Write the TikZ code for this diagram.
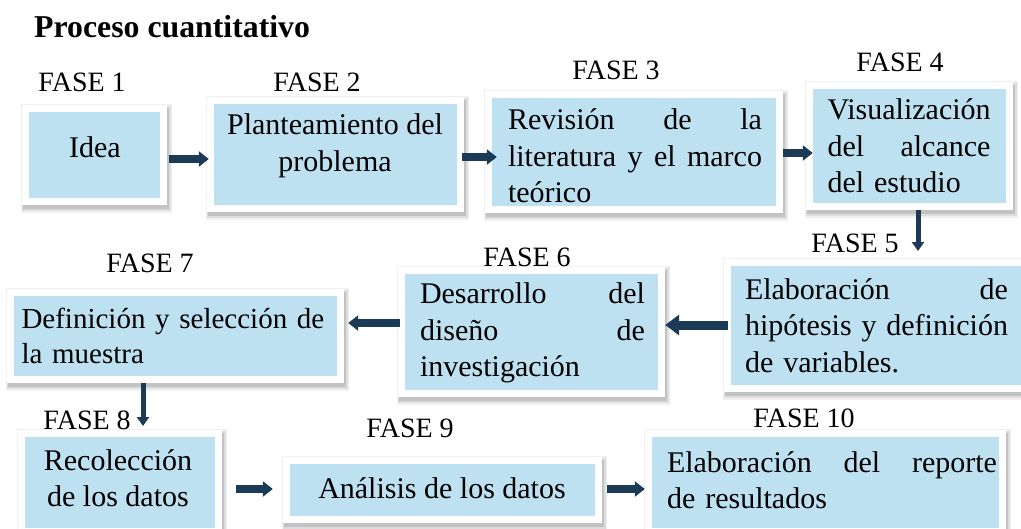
\documentclass[tikz,border=0pt]{standalone}
\usepackage{fontspec}
\setmainfont{Liberation Serif}
\usetikzlibrary{arrows.meta,calc}
\definecolor{boxblue}{RGB}{190,225,241}
\definecolor{arrowblue}{RGB}{27,58,86}
\pgfdeclarelayer{bg}
\pgfsetlayers{bg,main}
% #1 name, #2 cx, #3 cy, #4 width, #5 height
\newcommand\pbox[5]{%
  \node[frame, minimum width=#4pt, minimum height=#5pt] (#1) at (#2,#3) {};
  \fill[boxblue] ($(#1.north west)+(7,7)$) rectangle ($(#1.south east)+(-7,-7)$);
  \begin{pgfonlayer}{bg}
    \fill[black, opacity=0.06] ($(#1.north west)+(-1,-1)$) rectangle ($(#1.south east)+(5,8)$);
    \fill[black, opacity=0.08] ($(#1.north west)+(0,1)$) rectangle ($(#1.south east)+(3.5,6)$);
    \fill[black, opacity=0.12] ($(#1.north west)+(1,3)$) rectangle ($(#1.south east)+(2,4)$);
  \end{pgfonlayer}
}
\begin{document}
\begin{tikzpicture}[x=1pt,y=-1pt,
  frame/.style={fill=white, draw=none, inner sep=0pt},
  txt/.style={font=\fontsize{30}{36.5}\selectfont, inner sep=0pt, align=center},
  jtxt/.style={txt, align=left, text width=#1},
  fase/.style={font=\fontsize{28}{32}\selectfont, inner sep=0pt},
  arr/.style={draw=arrowblue, line width=7.5pt, -{Triangle[length=10pt,width=15pt]}},
  arrbig/.style={draw=arrowblue, line width=9pt, -{Triangle[length=14pt,width=20pt]}},
  arrd/.style={draw=arrowblue, line width=5pt, -{Triangle[length=9pt,width=12pt]}}
]
\begin{pgfonlayer}{bg}
\fill[white] (0,0) rectangle (1021,528);
\end{pgfonlayer}
\clip (0,0) rectangle (1021,528);

% title
\node[anchor=west, inner sep=0pt, font=\fontsize{31.8}{36}\selectfont\bfseries] (title) at (34,27) {Proceso cuantitativo};

% boxes (outer frames with inner blue field)
\pbox{b1}{94.5}{155}{145}{100}
\pbox{b2}{335.5}{154.5}{257}{115}
\pbox{b3}{634}{152}{298}{122}
\pbox{b4}{909.5}{146}{207}{128}
\pbox{b5}{876}{325.5}{304}{133}
\pbox{b6}{531.5}{332}{267}{130}
\pbox{b7}{175.5}{336}{337}{94}
\pbox{b8}{120}{482.5}{204}{105}
\pbox{b9}{442.5}{490}{319}{66}
\pbox{b10}{825.5}{482.5}{361}{105}

% texts
\node[txt] (t1) at (95,147) {Idea};
\node[txt] (t2) at (335,146) {Planteamiento del\\problema};
\node[jtxt=254pt] (t3) at (635,156) {Revisión\hfill de\hfill la\\literatura\hfill y\hfill el\hfill marco\\teórico};
\node[jtxt=163pt] (t4) at (909,146) {Visualización\\del\hfill alcance\\del estudio};
\node[jtxt=263pt] (t5) at (876.5,325.5) {Elaboración\hfill de\\hipótesis\hfill y\hfill definición\\de variables.};
\node[jtxt=225pt] (t6) at (532.5,333) {Desarrollo\hfill del\\diseño\hfill de\\investigación};
\node[jtxt=306pt, font=\fontsize{29}{35.5}\selectfont] (t7) at (174.5,336) {Definición y selección de\\la muestra};
\node[txt] (t8) at (118,478) {Recolección\\de los datos};
\node[txt] (t9) at (442,488) {Análisis de los datos};
\node[jtxt=330pt] (t10) at (832,480) {Elaboración\hfill del\hfill reporte\\de resultados};

% phase labels
\node[fase] (f1) at (82,82) {FASE 1};
\node[fase] (f2) at (317,82) {FASE 2};
\node[fase] (f3) at (616,70) {FASE 3};
\node[fase] (f4) at (900,62) {FASE 4};
\node[fase] (f5) at (855,243) {FASE 5};
\node[fase] (f6) at (527,257) {FASE 6};
\node[fase] (f7) at (150,263) {FASE 7};
\node[fase] (f8) at (87,420) {FASE 8};
\node[fase] (f9) at (410,428) {FASE 9};
\node[fase] (f10) at (804,418) {FASE 10};

% connectors
\draw[arr] ($(b1.east)+(2,4)$) -- ($(b2.west)+(2,4.5)$);
\draw[arr] ($(b2.east)+(-2,2.5)$) -- ($(b3.west)+(12,5)$);
\draw[arr] ($(b3.east)+(0,1)$) -- ($(b4.west)+(7,7)$);
\coordinate (a4) at (918,251);
\draw[arrd] (b4.south -| a4) -- (a4);
\draw[arrbig] ($(b5.west)+(4,-0.5)$) -- ($(b6.east)+(0,-7)$);
\draw[arr] ($(b6.west)+(2,-9)$) -- ($(b7.east)+(4,-13)$);
\coordinate (a7) at (143,426);
\draw[arrd] (b7.south -| a7) -- (a7);
\draw[arr] ($(b8.east)+(14,6.5)$) -- ($(b9.west)+(-10,-1)$);
\draw[arr] ($(b9.east)+(5,-1)$) -- ($(b10.west)+(0,6.5)$);
\end{tikzpicture}
\end{document}
